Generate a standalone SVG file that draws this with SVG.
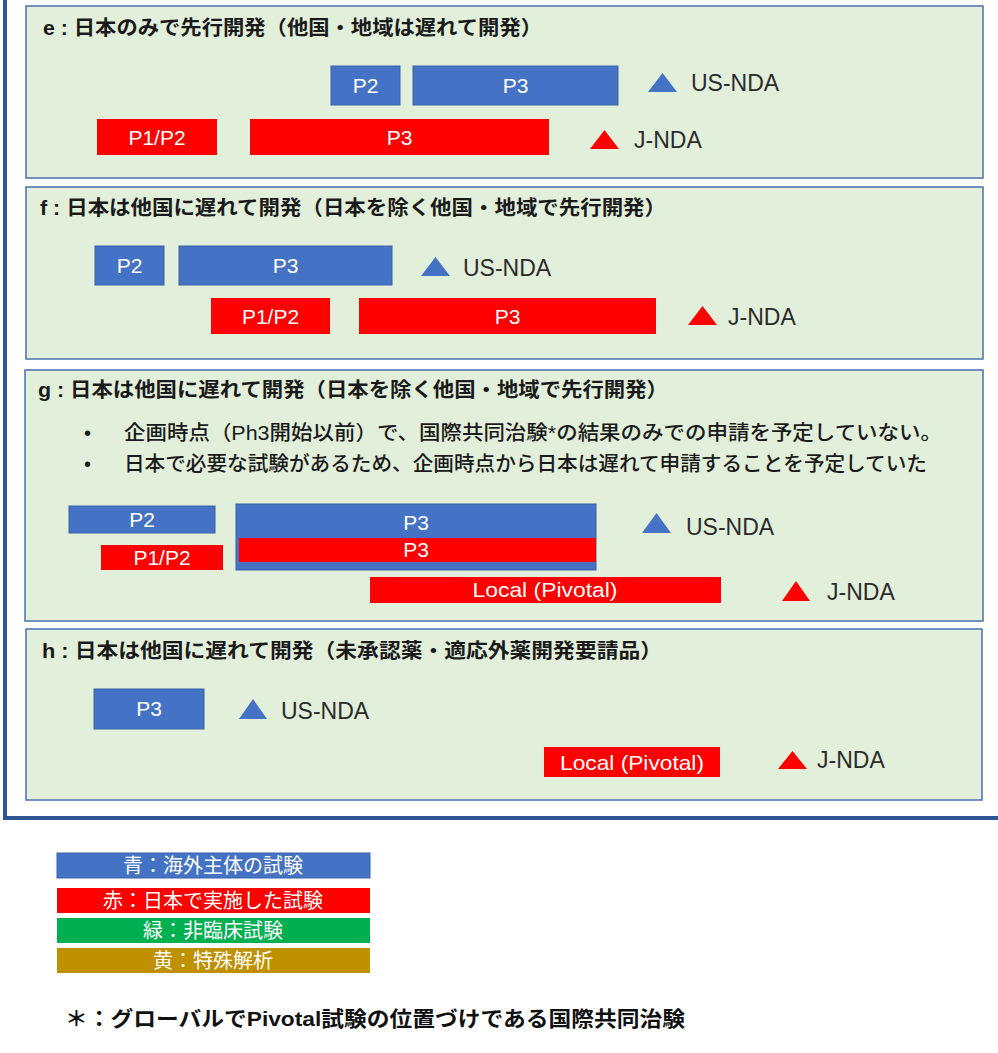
<svg xmlns="http://www.w3.org/2000/svg" width="998" height="1053" viewBox="0 0 998 1053">
<style>
.panel{fill:#E2EFDA;stroke:#4A6FAE;stroke-width:1.5}
.blue{fill:#4472C4;stroke:#3A62A8;stroke-width:1}
.red{fill:#FF0000}
.tb{fill:#4472C4}
.tr{fill:#FF0000}
.title{font-family:"Liberation Sans","Noto Sans CJK JP",sans-serif;font-size:20px;font-weight:bold;fill:#1A1A1A}
.body{font-family:"Liberation Sans","Noto Sans CJK JP",sans-serif;font-size:20px;fill:#1A1A1A;font-weight:500}
.bl{font-family:"Liberation Sans",sans-serif;font-size:21px;fill:#FFFFFF;text-anchor:middle}
.nda{font-family:"Liberation Sans",sans-serif;font-size:23px;fill:#2B2B2B}
.leg{font-family:"Noto Sans CJK JP",sans-serif;font-size:20px;fill:#FFFFFF;text-anchor:middle}
.foot{font-family:"Liberation Sans","Noto Sans CJK JP",sans-serif;font-size:21px;font-weight:bold;fill:#111111}
</style>
<rect width="998" height="1053" fill="#FFFFFF"/>
<rect id="outer-frame" x="5" y="-20" width="1100" height="838" fill="none" stroke="#2F5597" stroke-width="4"/>

<g id="panel-e">
<rect class="panel" x="26" y="6" width="957" height="172"/>
<text class="title" x="43" y="35" textLength="499" lengthAdjust="spacingAndGlyphs">e : 日本のみで先行開発（他国・地域は遅れて開発）</text>
<g id="e-us-p2"><rect class="blue" x="331" y="66" width="69" height="39"/><text class="bl" x="365.5" y="93">P2</text></g>
<g id="e-us-p3"><rect class="blue" x="413" y="66" width="205" height="39"/><text class="bl" x="515.5" y="93">P3</text></g>
<g id="e-us-nda"><polygon class="tb" points="648,92 662.5,73 677,92"/><text class="nda" x="691" y="91">US-NDA</text></g>
<g id="e-j-p1p2"><rect class="red" x="97" y="119" width="120" height="36"/><text class="bl" x="157" y="145">P1/P2</text></g>
<g id="e-j-p3"><rect class="red" x="250" y="119" width="299" height="36"/><text class="bl" x="399.5" y="145">P3</text></g>
<g id="e-j-nda"><polygon class="tr" points="590,149 604.5,130 619,149"/><text class="nda" x="634" y="148">J-NDA</text></g>
</g>

<g id="panel-f">
<rect class="panel" x="26" y="187" width="957" height="172"/>
<text class="title" x="40" y="215" textLength="626" lengthAdjust="spacingAndGlyphs">f : 日本は他国に遅れて開発（日本を除く他国・地域で先行開発）</text>
<g id="f-us-p2"><rect class="blue" x="95" y="246" width="69" height="39"/><text class="bl" x="129.5" y="273">P2</text></g>
<g id="f-us-p3"><rect class="blue" x="179" y="246" width="213" height="39"/><text class="bl" x="285.5" y="273">P3</text></g>
<g id="f-us-nda"><polygon class="tb" points="421,276 435.5,257 450,276"/><text class="nda" x="463" y="276">US-NDA</text></g>
<g id="f-j-p1p2"><rect class="red" x="211" y="298" width="119" height="36"/><text class="bl" x="270.5" y="324">P1/P2</text></g>
<g id="f-j-p3"><rect class="red" x="359" y="298" width="297" height="36"/><text class="bl" x="507.5" y="324">P3</text></g>
<g id="f-j-nda"><polygon class="tr" points="688,325 702.5,306 717,325"/><text class="nda" x="728" y="325">J-NDA</text></g>
</g>

<g id="panel-g">
<rect class="panel" x="25" y="370" width="958" height="251"/>
<text class="title" x="38" y="397" textLength="630" lengthAdjust="spacingAndGlyphs">g : 日本は他国に遅れて開発（日本を除く他国・地域で先行開発）</text>
<text class="body" x="84" y="440">•</text>
<text class="body" x="124" y="440" textLength="818" lengthAdjust="spacingAndGlyphs">企画時点（Ph3開始以前）で、国際共同治験*の結果のみでの申請を予定していない。</text>
<text class="body" x="84" y="471">•</text>
<text class="body" x="124" y="471" textLength="803" lengthAdjust="spacingAndGlyphs">日本で必要な試験があるため、企画時点から日本は遅れて申請することを予定していた</text>
<g id="g-us-p2"><rect class="blue" x="69" y="506" width="146" height="27"/><text class="bl" x="142" y="527">P2</text></g>
<g id="g-j-p1p2"><rect class="red" x="101" y="545" width="122" height="25"/><text class="bl" x="162" y="565">P1/P2</text></g>
<g id="g-us-p3"><rect class="blue" x="236" y="504" width="360" height="66"/><text class="bl" x="416" y="530">P3</text></g>
<g id="g-j-p3"><rect class="red" x="239" y="538" width="357" height="24"/><text class="bl" x="416" y="557">P3</text></g>
<g id="g-j-local"><rect class="red" x="370" y="577" width="351" height="26"/><text class="bl" x="545" y="597" textLength="145" lengthAdjust="spacingAndGlyphs">Local (Pivotal)</text></g>
<g id="g-us-nda"><polygon class="tb" points="642,533 656.5,513 671,533"/><text class="nda" x="686" y="535">US-NDA</text></g>
<g id="g-j-nda"><polygon class="tr" points="782,601 796,581 810,601"/><text class="nda" x="827" y="600">J-NDA</text></g>
</g>

<g id="panel-h">
<rect class="panel" x="26" y="629" width="956" height="171"/>
<text class="title" x="42" y="658" textLength="620" lengthAdjust="spacingAndGlyphs">h : 日本は他国に遅れて開発（未承認薬・適応外薬開発要請品）</text>
<g id="h-us-p3"><rect class="blue" x="94" y="689" width="110" height="40"/><text class="bl" x="149" y="716">P3</text></g>
<g id="h-us-nda"><polygon class="tb" points="239,719 253,699 267,719"/><text class="nda" x="281" y="719">US-NDA</text></g>
<g id="h-j-local"><rect class="red" x="544" y="747" width="176" height="30"/><text class="bl" x="632" y="770" textLength="144" lengthAdjust="spacingAndGlyphs">Local (Pivotal)</text></g>
<g id="h-j-nda"><polygon class="tr" points="778,769 792.5,751 807,769"/><text class="nda" x="817" y="768">J-NDA</text></g>
</g>

<g id="connectors"></g>

<g id="legend">
<g id="legend-blue"><rect x="57" y="853" width="313" height="25" fill="#4472C4" stroke="#3A62A8" stroke-width="1"/><text class="leg" x="213" y="873">青：海外主体の試験</text></g>
<g id="legend-red"><rect x="57" y="888" width="313" height="25" fill="#FF0000"/><text class="leg" x="213" y="908">赤：日本で実施した試験</text></g>
<g id="legend-green"><rect x="57" y="918" width="313" height="25" fill="#00B050"/><text class="leg" x="213" y="938">緑：非臨床試験</text></g>
<g id="legend-gold"><rect x="57" y="948" width="313" height="25" fill="#BF9000"/><text class="leg" x="213" y="968">黄：特殊解析</text></g>
</g>
<text id="footnote" class="foot" x="65" y="1026" textLength="620" lengthAdjust="spacingAndGlyphs">＊：グローバルでPivotal試験の位置づけである国際共同治験</text>
</svg>
